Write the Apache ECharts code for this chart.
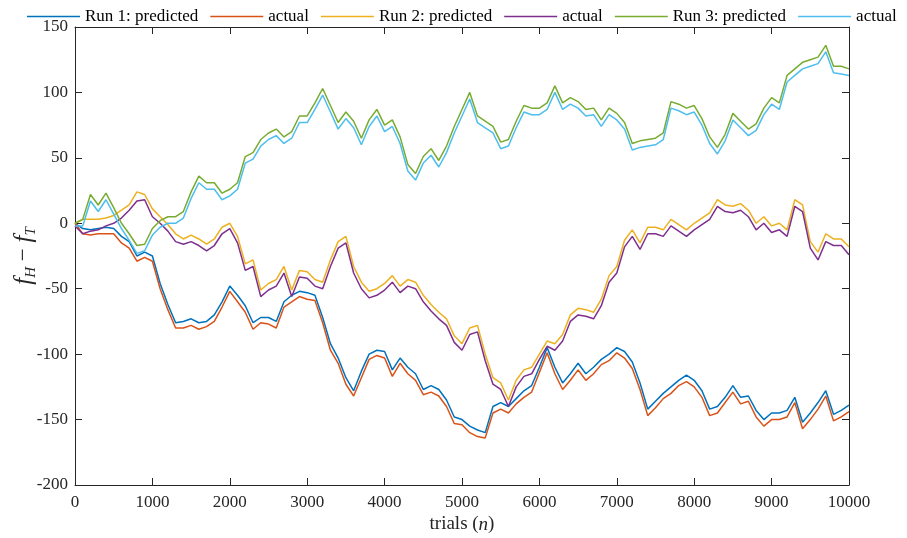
<!DOCTYPE html>
<html>
<head>
<meta charset="utf-8">
<script src="https://cdn.jsdelivr.net/npm/echarts@6/dist/echarts.min.js"></script>
<style>html,body{margin:0;padding:0;background:#fff;}#c{width:907px;height:538px;}</style>
</head>
<body>
<div id="c"></div>
<script>
// sampled every 100 trials, from 0 to 10000
const STEP = 100;
const run1Predicted = [0,-4,-5,-4,-3,-4,-10,-14,-25,-22,-25,-46,-62,-76,-75,-73,-76,-75,-70,-60,-48,-55,-63,-76,-72,-72,-75,-60,-55,-52,-53,-55,-72,-92,-103,-118,-128,-113,-100,-97,-98,-112,-103,-110,-115,-127,-124,-127,-135,-148,-150,-155,-158,-160,-140,-137,-140,-134,-128,-124,-110,-95,-110,-122,-115,-107,-115,-110,-104,-100,-95,-98,-106,-122,-142,-136,-130,-125,-120,-116,-120,-128,-142,-140,-133,-124,-133,-132,-143,-150,-145,-145,-143,-133,-152,-145,-137,-128,-146,-143,-139];
const run1Actual = [0,-8,-9,-8,-8,-8,-15,-19,-29,-26,-29,-50,-66,-80,-80,-78,-81,-79,-75,-64,-52,-60,-68,-81,-76,-77,-80,-64,-60,-56,-58,-59,-76,-97,-107,-123,-132,-118,-104,-101,-103,-117,-107,-115,-120,-131,-129,-132,-140,-153,-154,-160,-163,-164,-145,-142,-145,-138,-133,-129,-114,-99,-115,-127,-120,-112,-120,-115,-108,-105,-99,-103,-111,-127,-147,-141,-134,-130,-124,-121,-125,-133,-147,-145,-137,-129,-138,-136,-148,-155,-150,-150,-148,-137,-157,-150,-142,-132,-151,-148,-144];
const run2Predicted = [0,3,3,3,4,6,10,14,24,22,11,5,-1,-8,-12,-9,-12,-16,-12,-3,0,-10,-31,-28,-51,-46,-43,-33,-51,-36,-37,-43,-45,-28,-14,-10,-33,-45,-52,-50,-46,-40,-48,-43,-45,-55,-62,-68,-73,-86,-92,-80,-78,-100,-118,-122,-135,-120,-112,-110,-100,-90,-92,-85,-70,-65,-66,-68,-58,-40,-33,-13,-5,-15,-3,-3,-5,3,-1,-5,0,4,8,18,14,13,15,10,0,5,-2,0,-5,18,14,-14,-22,-8,-12,-12,-18];
const run2Actual = [-2,-8,-6,-5,-2,0,4,10,17,18,5,0,-6,-14,-16,-14,-17,-21,-17,-8,-4,-15,-36,-33,-56,-51,-48,-38,-56,-41,-42,-48,-50,-33,-19,-15,-38,-50,-57,-55,-51,-45,-53,-48,-50,-60,-67,-73,-78,-91,-97,-85,-83,-105,-123,-127,-140,-125,-117,-115,-104,-94,-97,-90,-75,-70,-71,-73,-63,-45,-38,-18,-10,-20,-8,-8,-10,-2,-6,-10,-5,-1,3,13,9,8,10,5,-5,0,-7,-5,-10,13,9,-19,-28,-14,-17,-17,-24];
const run3Predicted = [0,3,22,14,23,12,0,-8,-17,-16,-4,2,5,5,9,24,36,31,31,23,26,31,51,54,64,69,72,66,70,82,82,92,103,90,77,85,78,65,79,87,75,79,66,45,38,51,57,48,59,74,87,100,82,78,74,62,64,78,90,88,88,92,105,92,96,93,87,88,79,88,84,77,61,63,64,65,69,93,91,88,90,80,66,58,68,84,78,72,76,88,96,92,113,118,123,125,127,136,120,120,118];
const run3Actual = [-2,-2,17,9,18,7,-4,-13,-23,-21,-9,-3,0,0,4,19,31,26,26,18,21,26,46,49,59,64,67,61,65,77,77,87,98,85,72,80,73,60,74,82,70,74,61,40,33,46,52,43,54,69,82,95,77,73,69,57,59,73,85,83,83,87,100,87,91,88,82,83,74,83,79,72,56,58,59,60,64,88,86,83,85,75,61,53,63,79,73,67,71,83,91,87,108,113,118,120,122,131,115,114,113];

const seriesNames = ['Run 1: predicted','actual#1','Run 2: predicted','actual#2','Run 3: predicted','actual#3'];
const seriesValues = [run1Predicted, run1Actual, run2Predicted, run2Actual, run3Predicted, run3Actual];
const colors = ['#0072BD','#D95319','#EDB120','#7E2F8E','#77AC30','#4DBEEE'];

const FONT = 'Liberation Serif';
const AX = '#262626';

const chart = echarts.init(document.getElementById('c'), null, {renderer: 'canvas'});

const series = seriesValues.map((vals, si) => ({
  name: seriesNames[si],
  type: 'line',
  xAxisIndex: 0,
  yAxisIndex: 0,
  symbol: 'none',
  showSymbol: false,
  animation: false,
  lineStyle: {color: colors[si], width: 1.5},
  itemStyle: {color: colors[si]},
  data: vals.map((v, i) => [i * STEP, v])
}));

const commonX = {
  type: 'value', min: 0, max: 10000, interval: 1000,
  axisLine: {show: true, onZero: false, lineStyle: {color: AX, width: 1}},
  axisTick: {show: true, inside: true, length: 7, lineStyle: {color: AX}},
  splitLine: {show: false}
};
const commonY = {
  type: 'value', min: -200, max: 150, interval: 50,
  axisLine: {show: true, onZero: false, lineStyle: {color: AX, width: 1}},
  axisTick: {show: true, inside: true, length: 7, lineStyle: {color: AX}},
  splitLine: {show: false}
};

chart.setOption({
  animation: false,
  backgroundColor: '#fff',
  color: colors,
  grid: {left: 75, right: 58, top: 27, bottom: 53, containLabel: false, outerBoundsMode: 'none'},
  legend: {
    left: 22, top: 3, width: 1200,
    icon: 'rect',
    itemWidth: 53, itemHeight: 1.5, itemGap: 12,
    textStyle: {fontFamily: FONT, fontSize: 17, color: '#000'},
    formatter: n => n.replace(/#\d$/, ''),
    data: seriesNames
  },
  xAxis: [
    Object.assign({}, commonX, {
      position: 'bottom',
      axisLabel: {show: true, fontFamily: FONT, fontSize: 17, color: AX, margin: 9,
        formatter: v => String(v)},
      name: '{r|trials (}{i|n}{r|)}',
      nameLocation: 'middle', nameGap: 30, nameMoveOverlap: false,
      nameTextStyle: {rich: {
        r: {fontFamily: FONT, fontSize: 19, color: AX},
        i: {fontFamily: FONT, fontSize: 19, fontStyle: 'italic', color: AX}
      }}
    }),
    Object.assign({}, commonX, {position: 'top', axisLabel: {show: false}})
  ],
  yAxis: [
    Object.assign({}, commonY, {
      position: 'left',
      axisLabel: {show: true, fontFamily: FONT, fontSize: 17, color: AX, margin: 7,
        formatter: v => String(v)},
      name: '{f|f}{s|H}{o| − }{f|f}{s|T}',
      nameLocation: 'middle', nameGap: 36, nameRotate: 90, nameMoveOverlap: false,
      nameTextStyle: {rich: {
        f: {fontFamily: FONT, fontSize: 25, fontStyle: 'italic', color: AX, lineHeight: 30, verticalAlign: 'middle'},
        s: {fontFamily: FONT, fontSize: 15, fontStyle: 'italic', color: AX, lineHeight: 30, verticalAlign: 'bottom', padding: [10, 0, 0, 0]},
        o: {fontFamily: FONT, fontSize: 23, color: AX, lineHeight: 30, verticalAlign: 'middle'}
      }}
    }),
    Object.assign({}, commonY, {position: 'right', axisLabel: {show: false}})
  ],
  series: series
});
</script>
</body>
</html>
